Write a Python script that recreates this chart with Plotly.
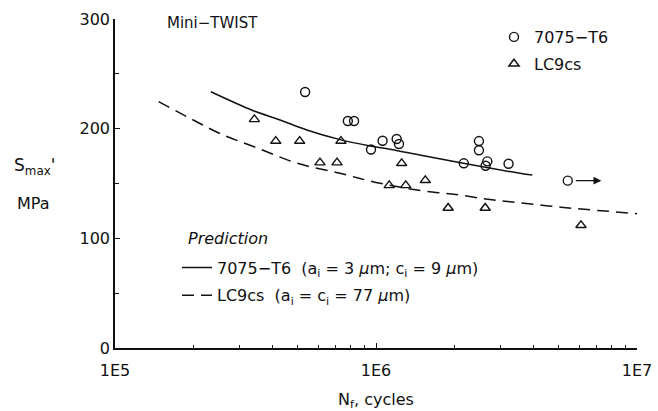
import math
import plotly.graph_objects as go

# ---- data ----
t6_cycles = [5.35e5, 7.8e5, 8.24e5, 9.57e5, 1.06e6, 1.2e6, 1.225e6, 2.17e6,
             2.48e6, 2.48e6, 2.67e6, 2.63e6, 3.22e6, 5.43e6]
t6_smax = [233.4, 207, 207, 181, 189, 190.6, 186, 168.4,
           188.7, 180.3, 170.2, 166.2, 168, 152.6]

lc9_cycles = [3.42e5, 4.13e5, 5.1e5, 6.1e5, 7.09e5, 7.34e5, 1.124e6, 1.254e6,
              1.30e6, 1.545e6, 1.89e6, 2.62e6, 6.1e6]
lc9_smax = [208.5, 188.7, 188.7, 169, 169, 188.7, 148.3, 168.4,
            148.3, 152.9, 127.7, 127.7, 111.9]

runout_from = 5.43e6
runout_to = 7.3e6
runout_smax = 152.6

pred_t6_cycles = [2.33e5, 3.39e5, 4.29e5, 5.43e5, 7.28e5, 9.49e5, 1.13e6,
                  1.47e6, 2.16e6, 3.56e6, 3.97e6]
pred_t6_smax = [233.7, 216.4, 207.9, 198.8, 190, 184.2, 181.2,
                176, 168.4, 159.3, 157.7]

pred_lc9_cycles = [1.47e5, 1.94e5, 2.53e5, 3.5e5, 5.0e5, 7.28e5, 1.0e6, 1.44e6,
                   2.02e6, 2.73e6, 3.69e6, 5.11e6, 7.03e6, 1.0e7]
pred_lc9_smax = [224.6, 209.4, 195.5, 182.5, 168.4, 159.3, 151, 144,
                 140, 135.4, 132, 128.4, 125.5, 122.5]

x_tickvals = [1e5, 1e6, 1e7]
x_ticktext = ["1E5", "1E6", "1E7"]
x_minor = [m * 10 ** e for e in (5, 6) for m in range(2, 10)]
y_tickvals = [0, 100, 200, 300]
y_minor = [50, 150, 250]

FONT = "DejaVu Sans"
BLACK = "#111111"

fig = go.Figure()

fig.add_trace(go.Scatter(
    x=t6_cycles, y=t6_smax, mode="markers", name="7075\u2212T6",
    marker=dict(symbol="circle-open", size=9, color=BLACK, line=dict(width=1.4)),
    legend="legend", legendgroup="g1"))
fig.add_trace(go.Scatter(
    x=lc9_cycles, y=lc9_smax, mode="markers", name="LC9cs",
    marker=dict(symbol="triangle-up-open", size=9, color=BLACK, line=dict(width=1.4)),
    legend="legend", legendgroup="g2"))

fig.add_trace(go.Scatter(
    x=pred_t6_cycles, y=pred_t6_smax, mode="lines",
    name="7075\u2212T6  (a<sub>i</sub> = 3 <i>\u03bc</i>m; c<sub>i</sub> = 9 <i>\u03bc</i>m)",
    line=dict(color=BLACK, width=1.5, shape="spline"), legend="legend2", legendgroup="p1"))
fig.add_trace(go.Scatter(
    x=pred_lc9_cycles, y=pred_lc9_smax, mode="lines",
    name="LC9cs  (a<sub>i</sub> = c<sub>i</sub> = 77 <i>\u03bc</i>m)",
    line=dict(color=BLACK, width=1.5, dash="12px,7px", shape="spline"),
    legend="legend2", legendgroup="p2"))

# run-out arrow
fig.add_annotation(
    x=math.log10(runout_to), y=runout_smax,
    ax=math.log10(runout_from) + 0.025, ay=runout_smax,
    xref="x", yref="y", axref="x", ayref="y",
    showarrow=True, arrowhead=2, arrowsize=1.2, arrowwidth=1.3,
    arrowcolor=BLACK, text="")

fig.add_annotation(text="Mini\u2212TWIST", xref="paper", yref="paper",
                   x=(165 - 115) / 522, y=(348 - 23) / 329, xanchor="left", yanchor="middle",
                   showarrow=False, font=dict(size=15, color=BLACK, family=FONT))

fig.add_annotation(text="<i>Prediction</i>", xref="paper", yref="paper",
                   x=(186 - 115) / 522, y=(348 - 238) / 329, xanchor="left", yanchor="middle",
                   showarrow=False, font=dict(size=16, color=BLACK, family=FONT))

fig.add_annotation(text="S<sub>max</sub>'", xref="paper", yref="paper",
                   x=(12 - 115) / 522, y=(348 - 166) / 329, xanchor="left", yanchor="middle",
                   showarrow=False, font=dict(size=17, color=BLACK, family=FONT))
fig.add_annotation(text="MPa", xref="paper", yref="paper",
                   x=(15 - 115) / 522, y=(348 - 204) / 329, xanchor="left", yanchor="middle",
                   showarrow=False, font=dict(size=16, color=BLACK, family=FONT))

fig.update_layout(
    width=658, height=411,
    margin=dict(l=115, r=21, t=19, b=63),
    paper_bgcolor="white", plot_bgcolor="white",
    font=dict(family=FONT, size=15, color=BLACK),
    showlegend=True,
    legend=dict(x=(494 - 115) / 522, y=(348 - 20) / 329, xanchor="left", yanchor="top",
                bgcolor="rgba(0,0,0,0)", font=dict(size=16, family=FONT, color=BLACK),
                traceorder="grouped", tracegroupgap=3, itemclick=False),
    legend2=dict(x=(177 - 115) / 522, y=(348 - 250.5) / 329, xanchor="left", yanchor="top",
                 bgcolor="rgba(0,0,0,0)", font=dict(size=16, family=FONT, color=BLACK),
                 traceorder="grouped", tracegroupgap=4, itemclick=False),
    xaxis=dict(type="log", range=[5, 7], showgrid=False, zeroline=False, automargin=False,
               showline=True, linecolor=BLACK, linewidth=1.5, mirror=False,
               tickmode="array", tickvals=x_tickvals, ticktext=x_ticktext,
               ticks="inside", ticklen=5, tickwidth=1.2, tickcolor=BLACK,
               ticklabelstandoff=7,
               tickfont=dict(size=16, family=FONT, color=BLACK),
               minor=dict(tickmode="array", tickvals=x_minor, ticks="inside",
                          ticklen=3, tickwidth=1, tickcolor=BLACK, showgrid=False),
               title=dict(text="N<sub>f</sub>, cycles", standoff=17,
                          font=dict(size=16, family=FONT, color=BLACK))),
    yaxis=dict(range=[0, 300], showgrid=False, zeroline=False, automargin=False,
               showline=True, linecolor=BLACK, linewidth=1.5, mirror=False,
               tickmode="array", tickvals=y_tickvals,
               ticks="inside", ticklen=5, tickwidth=1.2, tickcolor=BLACK,
               tickfont=dict(size=16, family=FONT, color=BLACK),
               minor=dict(tickmode="array", tickvals=y_minor, ticks="inside",
                          ticklen=4, tickwidth=1, tickcolor=BLACK, showgrid=False)),
)

fig.write_html("out.html")
